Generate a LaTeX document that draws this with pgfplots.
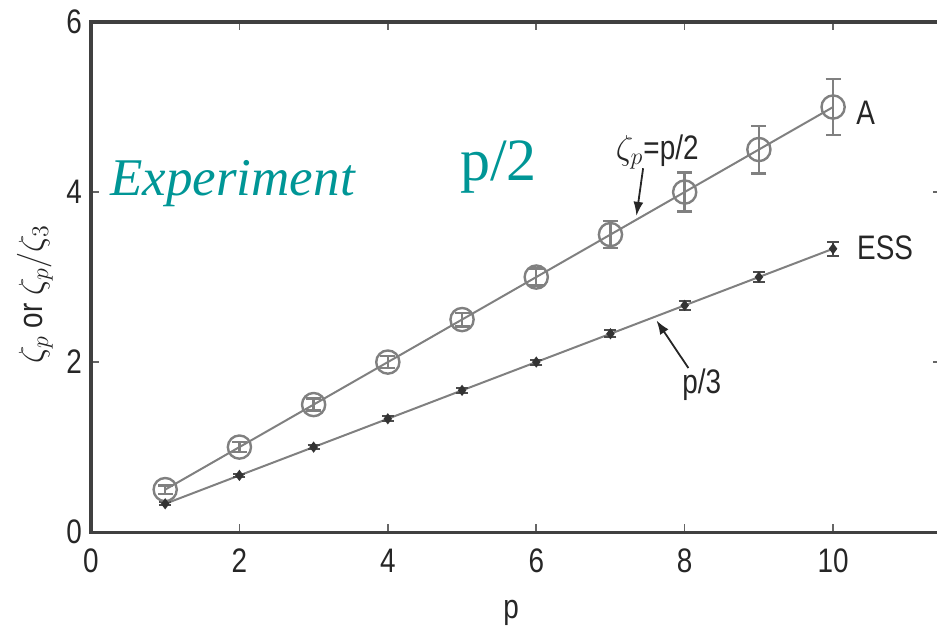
\documentclass[border=0pt]{standalone}
\usepackage{fontspec}
\setmainfont{Liberation Sans}[FakeStretch=0.82]
\newfontfamily\timesf{Liberation Serif}
\usepackage{pgfplots}
\pgfplotsset{compat=1.18}
\usetikzlibrary{arrows.meta}
\definecolor{tealtxt}{RGB}{0,150,150}
\begin{document}
\begin{tikzpicture}
\begin{axis}[
 x=37.1pt, y=42.5pt,
 xmin=0, xmax=11.45, ymin=0, ymax=6,
 xtick={0,2,4,6,8,10}, ytick={0,2,4,6},
 tick align=inside, major tick length=4pt,
 axis line style={line width=1.6pt, black!75},
 tick style={line width=0.8pt, black!60},
 tick label style={font=\fontsize{17}{17}\selectfont, text=black!85},
 xticklabel style={yshift=-5pt},
 yticklabel style={xshift=-1pt},
 /pgf/number format/assume math mode=true,
 clip=false,
]
\addplot[gray, line width=1pt, mark=o, mark size=5.8pt,
  mark options={line width=1.2pt, gray},
  error bars/.cd, y dir=both, y explicit,
  error bar style={gray, line width=1.2pt},
  error mark options={rotate=90, mark size=3.75pt, gray, line width=1.2pt}]
 table[x=p, y=z, y error=e] {
p z e
1 0.5 0.05
2 1.0 0.06
3 1.5 0.07
4 2.0 0.07
5 2.5 0.08
6 3.0 0.10
7 3.5 0.16
8 4.0 0.23
9 4.5 0.28
10 5.0 0.33
};
\addplot[gray, line width=1pt, mark=diamond*, mark size=2pt,
  mark options={black!80},
  error bars/.cd, y dir=both, y explicit,
  error bar style={black!70, line width=1pt},
  error mark options={rotate=90, mark size=3pt, black!70, line width=1pt}]
 table[x=p, y=z, y error=e] {
p z e
1 0.333 0.02
2 0.667 0.02
3 1.0 0.02
4 1.333 0.03
5 1.667 0.03
6 2.0 0.03
7 2.333 0.04
8 2.667 0.05
9 3.0 0.06
10 3.333 0.08
};
\node[font=\fontsize{17}{17}\selectfont, text=black!85] at (axis cs:5.66,-0.95) {p};
\node[font=\fontsize{17}{17}\selectfont, text=black!85, rotate=90] at (axis cs:-0.755,2.8) {$\zeta_p$ or $\zeta_p/\zeta_3$};
\node[font=\fontsize{17}{17}\selectfont, text=black!85] at (axis cs:10.44,4.93) {A};
\node[font=\fontsize{17}{17}\selectfont, text=black!85] at (axis cs:10.70,3.35) {ESS};
\node[font=\fontsize{17}{17}\selectfont, text=black!85] at (axis cs:8.23,1.73) {p/3};
\node[font=\fontsize{17}{17}\selectfont, text=black!85] at (axis cs:7.63,4.47) {$\zeta_p$=p/2};
\draw[black!85, line width=0.9pt, -{Latex[length=7pt,width=5pt]}] (axis cs:7.44,4.28) -- (axis cs:7.35,3.72);
\draw[black!85, line width=0.9pt, -{Latex[length=7pt,width=5pt]}] (axis cs:8.05,1.93) -- (axis cs:7.62,2.49);
\node[font=\timesf\itshape\fontsize{26.5}{26.5}\selectfont, text=tealtxt, anchor=base west, inner sep=0pt] at (axis cs:0.256,3.96) {Experiment};
\node[font=\timesf\fontsize{30}{30}\selectfont, text=tealtxt, anchor=base west, inner sep=0pt] at (axis cs:4.97,4.14) {p/2};
\coordinate (bbSW) at (axis cs:-1.226,-1.282);
\coordinate (bbNE) at (axis cs:11.40,6.259);
\end{axis}
\pgfresetboundingbox
\path[use as bounding box] (bbSW) rectangle (bbNE);
\end{tikzpicture}
\end{document}
